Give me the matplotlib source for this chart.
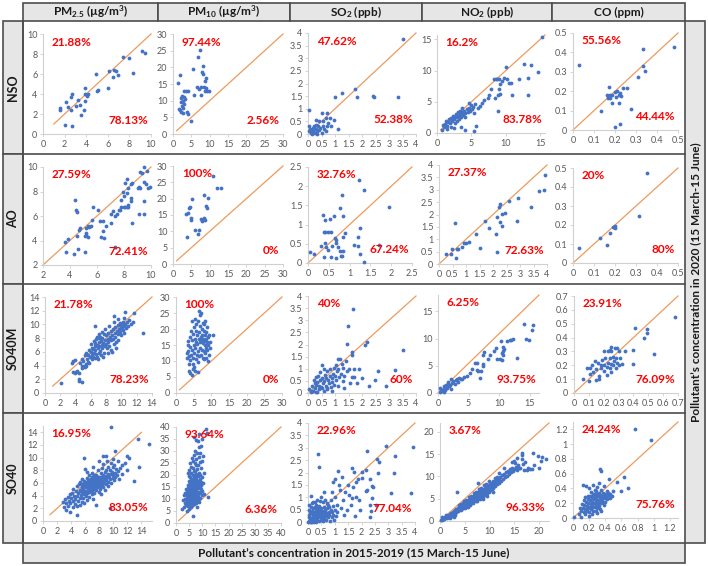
import matplotlib
matplotlib.use("Agg")
import matplotlib.pyplot as plt
from matplotlib.patches import Rectangle
from matplotlib.lines import Line2D
import numpy as np

plt.rcParams['font.family'] = ['Lato', 'DejaVu Sans']
plt.rcParams['mathtext.fontset'] = 'custom'
plt.rcParams['mathtext.rm'] = 'Lato'
plt.rcParams['mathtext.bf'] = 'Lato:bold'
plt.rcParams['mathtext.it'] = 'Lato:italic'

# ---------------- data ----------------
columns = [r'PM$_{\mathbf{2.5}}$ (µg/m$^{\mathbf{3}}$)', r'PM$_{\mathbf{10}}$ (µg/m$^{\mathbf{3}}$)',
           r'SO$_{\mathbf{2}}$ (ppb)', r'NO$_{\mathbf{2}}$ (ppb)', 'CO (ppm)']
rows = ['NSO', 'AO', 'SO40M', 'SO40']
y_title = 'Pollutant’s concentration in 2020 (15 March-15 June)'
x_title = 'Pollutant’s concentration in 2015-2019 (15 March-15 June)'

pct_above = [['21.88%', '97.44%', '47.62%', '16.2%', '55.56%'],
             ['27.59%', '100%', '32.76%', '27.37%', '20%'],
             ['21.78%', '100%', '40%', '6.25%', '23.91%'],
             ['16.95%', '93.64%', '22.96%', '3.67%', '24.24%']]
pct_below = [['78.13%', '2.56%', '52.38%', '83.78%', '44.44%'],
             ['72.41%', '0%', '67.24%', '72.63%', '80%'],
             ['78.23%', '0%', '60%', '93.75%', '76.09%'],
             ['83.05%', '6.36%', '77.04%', '96.33%', '75.76%']]

NSO_PM25 = [(2.0,0.9),(2.7,0.8),(1.6,2.4),(1.6,2.6),(2.1,3.2),(2.3,2.7),(2.6,2.4),(2.6,3.7),(2.7,4.0),
            (3.1,2.8),(3.4,2.9),(3.2,3.4),(3.5,1.9),(3.8,2.4),(3.9,3.3),(3.9,4.0),(3.9,4.6),(4.1,3.8),
            (4.2,4.0),(5.0,4.3),(5.1,4.4),(4.9,6.0),(6.0,4.6),(6.1,6.3),(6.5,5.7),(6.6,6.4),(6.8,6.3),
            (6.9,5.9),(7.4,7.7),(8.0,7.6),(8.3,6.1),(9.2,8.3),(9.4,8.1)]
NSO_PM10 = [(1.3,15.2),(1.8,17.8),(1.5,7.5),(1.8,7.2),(2.1,6.5),(2.3,10.8),(2.3,9.5),(2.4,8.3),(2.5,11.5),
            (2.6,10.0),(2.7,7.8),(2.8,6.2),(2.9,9.0),(3.0,11.0),(3.1,12.8),(3.3,10.5),(3.6,12.9),(3.8,6.5),
            (4.0,12.8),(4.1,5.9),(4.8,4.0),(5.5,19.5),(5.8,11.8),(6.5,14.0),(6.8,23.2),(7.1,13.5),(7.3,25.3),
            (7.6,11.8),(7.9,18.5),(8.1,18.0),(8.3,20.4),(8.4,14.0),(8.6,13.0),(8.8,15.8),(9.0,16.9),(8.9,13.8),
            (9.3,12.9),(9.8,12.8),(7.7,14.2)]
NSO_SO2 = [(3.5,3.75),(1.75,1.8),(1.8,1.45),(2.4,1.5),(2.45,1.45),(3.35,1.45),(1.0,1.45),(1.25,1.62),(0.05,0.97),
           (0.5,0.85),(0.7,0.85),(0.55,0.5),(0.65,0.62),(0.8,0.65),(0.95,0.55),(1.1,0.2),(0.75,0.45),(0.85,0.3),
           (0.02,0.3),(0.05,0.1),(0.08,0.2),(0.1,0.05),(0.12,0.15),(0.15,0.0),(0.18,0.1),(0.2,0.25),(0.22,0.3),
           (0.25,0.05),(0.28,0.2),(0.3,0.35),(0.32,0.1),(0.35,0.0),(0.38,0.3),(0.4,0.15),(0.45,0.25),(0.5,0.05),
           (0.55,0.3),(0.6,0.2),(0.65,0.1),(0.7,0.3),(0.4,0.5),(0.3,0.55)]
NSO_NO2 = [(15.2,15.3),(12.7,11.1),(13.6,10.9),(14.7,9.7),(11.9,8.7),(13.2,8.8),(13.2,6.1),(10.9,6.1),
           (10.0,10.5),(10.2,8.7),(10.4,8.0),(10.7,8.0),(9.7,8.8),(9.5,8.3),(9.2,7.8),(8.7,8.6),(9.0,8.7),
           (8.3,8.7),(8.6,8.7),(9.0,7.0),(9.1,6.3),(8.9,6.1),(8.4,5.6),(8.9,3.6),(7.9,7.0),(7.6,6.1),(7.4,5.6),
           (6.9,5.3),(6.2,4.3),(6.0,4.0),(6.6,4.8),(5.6,1.1),(5.4,0.4),(4.0,0.5),(3.5,1.0),
           (0.7,0.5),(1.0,0.9),(1.2,1.5),(1.3,2.0),(1.5,1.2),(1.6,1.8),(1.8,2.2),(1.9,1.6),(2.0,1.0),(2.1,2.4),
           (2.2,1.9),(2.3,2.8),(2.5,2.2),(2.6,1.6),(2.7,3.0),(2.8,2.5),(2.9,2.0),(3.0,3.3),(3.1,2.7),(3.2,2.2),
           (3.3,3.6),(3.4,3.0),(3.5,2.5),(3.6,4.0),(3.7,3.3),(3.8,2.9),(3.9,3.6),(4.0,2.6),(4.1,3.2),(4.3,3.8),
           (4.5,3.4),(4.6,4.0),(4.8,3.5),(5.0,4.5),(5.1,3.8),(5.2,4.2),(5.4,3.2),(5.5,4.7),(1.4,0.6),(2.4,0.8),
           (0.9,1.3),(4.6,4.8)]
NSO_CO = [(0.03,0.335),(0.48,0.43),(0.335,0.42),(0.335,0.33),(0.345,0.305),(0.31,0.275),(0.17,0.22),(0.16,0.18),
          (0.165,0.165),(0.175,0.18),(0.185,0.18),(0.135,0.10),(0.185,0.14),(0.21,0.20),(0.22,0.18),(0.225,0.19),
          (0.24,0.215),(0.255,0.215),(0.22,0.14),(0.275,0.11),(0.20,0.015),(0.225,0.03),(0.205,0.17),(0.23,0.175),
          (0.165,0.175),(0.2,0.195),(0.175,0.165)]

AO_PM25 = [(4.4,7.3),(4.45,6.45),(4.5,6.3),(3.66,3.86),(3.86,4.1),(3.7,3.04),(4.3,2.9),(4.6,3.3),(5.1,3.05),
           (4.53,4.33),(4.66,4.88),(4.73,5.0),(5.1,4.33),(5.2,4.47),(5.2,4.6),(5.3,4.27),(5.18,5.0),(5.3,5.15),
           (5.4,5.07),(5.55,5.15),(5.6,5.7),(5.73,6.74),(6.1,6.47),(6.22,5.56),(6.47,5.56),(6.3,4.27),(6.5,4.2),
           (6.42,4.74),(6.67,5.15),(7.04,5.42),(7.34,3.45),(7.0,6.2),(7.2,6.4),(7.3,6.0),(7.5,6.2),(7.6,6.5),
           (7.7,6.5),(7.8,6.7),(8.0,6.7),(8.1,6.7),(8.2,6.7),(8.3,6.7),(7.8,7.3),(8.0,7.6),(8.2,7.9),(8.3,8.3),
           (7.9,8.0),(8.1,8.7),(8.2,9.0),(8.5,8.6),(8.6,8.7),(8.5,7.2),(8.5,7.5),(8.3,6.9),(8.6,5.4),(9.0,8.3),
           (9.1,8.4),(9.2,8.3),(9.1,6.2),(9.45,6.2),(9.2,9.6),(9.3,9.5),(9.45,8.8),(9.6,8.65),(9.5,7.2),(9.5,10.0),
           (9.7,9.67),(9.8,8.3),(9.95,8.4)]
AO_PM10 = [(3.9,8.2),(3.6,15.2),(4.1,15.6),(4.3,17.0),(4.5,17.3),(5.2,20.0),(4.8,14.2),(5.0,13.6),(5.9,10.5),
           (7.1,10.5),(6.8,9.2),(7.7,13.9),(8.2,13.6),(8.4,14.2),(8.0,13.1),(8.6,13.6),(8.4,21.1),(9.1,17.7),
           (9.5,20.3),(9.4,17.2),(10.9,26.9),(12.0,23.4),(13.2,23.4)]
AO_SO2 = [(0.06,0.29),(0.14,0.24),(0.32,0.43),(0.36,1.26),(0.4,1.11),(0.38,0.82),(0.42,0.82),(0.48,0.82),
          (0.55,0.82),(0.42,0.52),(0.44,0.42),(0.48,0.35),(0.38,0.16),(0.54,1.15),(0.62,1.23),(0.58,0.43),
          (0.56,0.16),(0.64,0.65),(0.67,0.59),(0.68,0.52),(0.68,0.13),(0.72,0.42),(0.79,0.17),(0.82,0.17),
          (0.84,0.3),(0.76,1.43),(0.82,1.76),(0.84,1.23),(0.84,0.68),(0.88,0.78),(0.76,0.3),(1.22,2.15),
          (1.35,1.9),(1.94,1.46),(1.24,0.91),(1.19,0.68),(1.1,0.48),(1.7,0.46),(1.24,0.24),(1.34,0.02),(1.19,0.43)]
AO_NO2 = [(0.27,0.4),(0.46,0.39),(0.49,0.6),(0.58,1.64),(0.67,0.6),(0.7,0.6),(0.64,0.23),(0.85,0.67),(0.91,0.86),
          (1.01,0.84),(1.1,0.9),(1.36,1.21),(1.51,0.63),(1.72,1.75),(1.85,1.44),(2.12,1.21),(2.15,0.5),(2.16,1.89),
          (2.22,2.32),(2.27,2.42),(2.27,1.71),(2.33,2.02),(2.43,2.05),(2.35,1.55),(2.58,2.55),(2.89,1.75),
          (2.93,2.65),(3.42,2.29),(3.69,2.96),(3.88,2.99),(3.91,3.6)]
AO_CO = [(0.03,0.08),(0.13,0.13),(0.16,0.096),(0.175,0.16),(0.194,0.19),(0.2,0.183),(0.19,0.188),(0.2,0.197),
         (0.313,0.247),(0.352,0.474)]

SO40M_PM25 = [(2.1,1.4),(3.5,4.4),(3.6,4.7),(3.9,4.8),(3.7,3.1),(3.9,2.9),(4.1,3.0),(4.2,3.2),(4.4,2.9),(4.4,2.0),
              (4.5,1.8),(4.8,1.6),(4.6,4.4),(4.8,4.0),(4.9,3.7),(5.1,4.0),(5.2,3.8),(5.4,3.9),(5.8,4.4),(6.1,4.9),
              (6.3,5.2),(6.6,5.1),(6.8,5.3),(5.7,6.3),(6.6,9.8),(6.8,8.2),(7.0,8.0),(7.2,8.1),(9.0,11.3),(10.5,11.8),
              (12.8,8.7),(10.5,10.1),(10.3,9.7),(10.2,9.2),(5.5,5.0),(5.6,5.6),(5.9,5.3),(6.0,6.0),(6.2,5.6),
              (6.3,6.4),(6.4,5.9),(6.5,6.8),(6.6,6.2),(6.7,5.7),(6.8,7.0),(6.9,6.5),(7.0,5.9),(7.0,7.4),(7.1,6.8),
              (7.2,6.1),(7.3,7.6),(7.4,7.0),(7.5,6.5),(7.5,8.0),(7.6,7.3),(7.7,5.8),(7.8,7.8),(7.9,6.9),(8.0,8.4),
              (8.0,7.2),(8.1,6.5),(8.2,7.9),(8.3,8.8),(8.3,7.4),(8.4,6.8),(8.5,8.2),(8.6,9.0),(8.6,7.7),(8.7,6.3),
              (8.8,8.5),(8.9,9.3),(8.9,7.9),(9.0,7.2),(9.1,8.8),(9.2,9.6),(9.2,8.2),(9.3,7.5),(9.4,9.0),(9.5,9.9),
              (9.5,8.6),(9.6,7.8),(9.7,9.3),(9.8,10.2),(9.8,8.9),(9.9,9.6),(10.0,10.0),(10.0,8.5),(10.1,9.4),
              (10.2,10.4),(10.3,8.8),(10.4,9.9),(10.6,9.5),(10.7,10.3),(10.8,9.8),(11.0,10.6),(11.2,10.0),
              (11.5,10.3),(11.6,11.6),(6.0,7.2),(6.4,7.6),(6.7,7.9),(7.1,8.6),(7.4,8.9),(7.8,9.3),(5.2,5.5),
              (5.0,4.6),(5.3,4.3),(5.6,4.5),(6.9,4.9),(7.3,5.5),(7.6,5.2),(8.2,5.8),(8.8,6.0),(9.3,6.6),(4.9,4.9),
              (5.4,5.9),(6.1,6.6),(6.5,7.3),(7.7,8.6),(8.4,9.7),(9.0,10.3),(9.6,10.8),(10.4,10.9)]
SO40M_PM10 = [(3.0,10.8),(3.2,12.5),(3.3,15.0),(3.4,16.2),(3.5,13.0),(3.6,9.2),(3.7,11.5),(3.8,7.0),(3.9,6.2),
              (4.0,14.5),(4.0,17.5),(4.1,10.3),(4.2,12.0),(4.3,19.5),(4.4,22.5),(4.5,16.5),(4.6,13.5),(4.6,5.7),
              (4.7,9.0),(4.8,11.0),(4.9,18.5),(5.0,15.0),(5.0,20.5),(5.1,8.0),(5.2,12.5),(5.3,23.0),(5.4,17.0),
              (5.5,14.0),(5.6,10.5),(5.6,19.5),(5.7,16.0),(5.8,21.5),(5.9,12.0),(6.0,18.0),(6.0,15.3),(6.1,9.8),
              (6.2,22.5),(6.3,13.0),(6.4,17.0),(6.5,25.5),(6.5,11.5),(6.6,19.0),(6.7,15.8),(6.8,24.5),(6.8,14.0),
              (6.9,21.0),(7.0,17.5),(7.0,12.0),(7.1,25.0),(7.2,16.5),(7.3,20.0),(7.3,13.5),(7.4,18.0),(7.5,11.0),
              (7.5,22.0),(7.6,15.5),(7.7,17.0),(7.8,19.5),(7.8,13.0),(7.9,16.3),(8.0,21.5),(8.0,10.5),(8.1,18.0),
              (8.2,15.0),(8.3,12.5),(8.3,22.5),(8.4,17.0),(8.5,14.0),(8.6,19.0),(8.6,11.0),(8.7,16.0),(8.8,20.5),
              (8.9,13.5),(9.0,17.5),(9.0,10.0),(9.1,15.0),(9.2,12.0),(9.3,18.0),(9.5,14.0),(9.6,16.0),(10.5,18.0),
              (6.3,6.5),(4.8,7.5),(5.4,6.8)]
SO40M_SO2 = [(1.68,3.45),(1.47,2.76),(1.46,2.02),(1.62,1.68),(2.17,2.12),(2.11,1.98),(3.53,1.77),(3.22,0.95),
             (1.7,0.99),(1.7,0.65),(1.62,0.65),(2.27,0.29),(2.48,0.54),(1.62,1.57),(0.05,0.15),(0.1,0.05),
             (0.15,0.3),(0.2,0.1),(0.22,0.55),(0.25,0.2),(0.28,0.65),(0.3,0.35),(0.32,0.05),(0.35,0.45),(0.38,0.7),
             (0.4,0.15),(0.42,0.3),(0.45,0.55),(0.48,0.25),(0.5,0.6),(0.52,1.15),(0.55,0.4),(0.58,0.1),(0.6,0.5),
             (0.62,0.75),(0.65,0.3),(0.68,0.6),(0.7,0.9),(0.72,0.2),(0.75,0.55),(0.78,0.4),(0.8,0.7),(0.82,1.0),
             (0.85,0.25),(0.88,0.6),(0.9,0.45),(0.92,0.8),(0.95,1.05),(0.98,0.35),(1.0,0.7),(1.02,1.15),(1.05,0.55),
             (1.08,0.9),(1.1,0.3),(1.12,1.0),(1.15,0.65),(1.2,1.4),(1.22,0.8),(1.25,1.2),(1.28,0.5),(1.3,1.05),
             (1.35,0.7),(1.4,1.3),(1.45,0.9),(1.5,1.0),(1.55,0.4),(1.1,1.4),(0.6,1.0),(0.45,0.85),(0.3,0.05),
             (0.15,0.1),(0.5,0.2),(0.25,0.4),(0.7,0.15),(0.9,0.1),(1.8,0.4),(2.0,0.6),(1.9,1.0),(1.35,0.2),
             (2.6,0.9),(2.9,0.3)]
SO40M_NO2 = [(14.0,12.7),(15.6,12.4),(14.4,10.0),(14.9,9.8),(15.4,11.5),(12.9,6.5),(12.2,10.0),(11.9,9.7),
             (11.7,9.8),(11.3,9.5),(10.3,9.5),(10.7,8.4),(10.8,8.1),(10.6,7.8),(10.4,7.3),(10.7,7.0),(10.2,6.2),
             (10.5,6.0),(9.7,6.2),(9.5,8.3),(9.1,7.8),(8.5,7.0),(8.2,6.2),(7.4,7.0),(7.5,7.6),(7.1,4.0),(6.9,2.8),
             (7.4,5.4),(7.3,5.0),(6.3,5.6),(6.0,5.6),(6.6,4.0),(6.3,4.3),(5.6,4.4),(5.2,3.7),(4.7,3.2),
             (0.3,0.2),(0.5,0.5),(0.7,0.3),(0.9,0.8),(1.0,1.2),(1.2,0.6),(1.3,1.4),(1.5,1.0),(1.6,1.6),(1.8,1.2),
             (2.0,1.5),(2.1,0.8),(2.3,1.8),(2.5,2.2),(2.7,1.6),(2.9,2.4),(3.1,2.6),(3.3,2.0),(3.5,2.8),(3.7,2.5),
             (4.0,2.6),(4.2,3.0),(1.0,0.2),(0.4,0.9),(1.7,2.0),(2.2,2.5)]
SO40M_CO = [(0.68,0.55),(0.41,0.47),(0.49,0.46),(0.49,0.43),(0.47,0.40),(0.54,0.28),(0.40,0.31),(0.40,0.21),
            (0.274,0.327),(0.29,0.327),(0.34,0.3),(0.30,0.30),(0.24,0.31),(0.25,0.3),(0.06,0.1),(0.105,0.14),
            (0.105,0.18),(0.087,0.18),(0.1,0.087),(0.146,0.096),(0.18,0.18),(0.2,0.2),(0.15,0.17),(0.16,0.22),
            (0.17,0.12),(0.18,0.2),(0.19,0.24),(0.2,0.16),(0.21,0.25),(0.22,0.19),(0.22,0.13),(0.23,0.22),
            (0.24,0.25),(0.24,0.18),(0.25,0.21),(0.25,0.15),(0.26,0.26),(0.26,0.2),(0.27,0.23),(0.28,0.18),
            (0.28,0.25),(0.29,0.22),(0.3,0.2),(0.31,0.25),(0.32,0.21),(0.23,0.3),(0.25,0.33),(0.2,0.3),(0.14,0.23),
            (0.12,0.2),(0.17,0.1),(0.13,0.15)]

SO40_PM25 = [(2.8,3.0),(3.0,2.2),(3.1,3.5),(3.2,1.8),(3.3,2.9),(3.5,3.8),(3.6,2.4),(3.7,3.2),(3.8,4.2),(3.9,1.5),
             (3.9,2.8),(4.0,3.6),(4.1,4.5),(4.2,2.2),(4.3,3.1),(4.3,5.0),(4.4,4.0),(4.5,2.7),(4.6,3.5),(4.7,4.8),
             (4.8,0.9),(4.8,3.9),(4.9,2.3),(4.9,5.5),(5.0,3.2),(5.0,4.4),(5.1,5.8),(5.2,3.7),(5.2,4.9),(5.3,2.6),
             (5.3,6.2),(5.4,4.1),(5.5,5.3),(5.5,3.0),(5.6,4.6),(5.6,6.6),(5.7,3.6),(5.7,5.0),(5.8,10.0),(5.8,4.2),
             (5.9,5.6),(5.9,2.8),(6.0,4.8),(6.0,6.0),(6.1,3.9),(6.1,5.3),(6.2,6.8),(6.2,4.4),(6.3,5.7),(6.3,3.3),
             (6.4,5.0),(6.4,6.3),(6.5,4.6),(6.5,7.2),(6.6,5.5),(6.6,3.8),(6.7,6.0),(6.7,4.9),(6.8,6.7),(6.8,5.2),
             (6.9,4.3),(6.9,5.8),(7.0,6.3),(7.0,7.6),(7.0,4.8),(7.1,5.5),(7.1,3.5),(7.2,6.0),(7.2,6.9),(7.3,5.1),
             (7.3,4.4),(7.4,6.4),(7.4,5.7),(7.5,7.3),(7.5,4.9),(7.6,6.1),(7.6,2.6),(7.7,5.4),(7.7,6.7),(7.8,5.9),
             (7.8,8.0),(7.9,4.6),(7.9,6.3),(8.0,5.6),(8.0,7.0),(8.1,6.6),(8.1,5.1),(8.2,7.6),(8.2,6.0),(8.3,4.2),
             (8.3,6.9),(8.4,5.7),(8.4,8.3),(8.5,6.4),(8.5,7.3),(8.6,5.3),(8.6,9.0),(8.7,6.8),(8.7,6.0),(8.8,7.7),
             (8.8,4.9),(8.9,6.5),(8.9,7.1),(9.0,8.0),(9.0,5.8),(9.1,6.9),(9.1,9.5),(9.2,6.2),(9.2,7.5),(9.3,8.6),
             (9.3,5.5),(9.4,7.0),(9.5,2.0),(9.5,6.6),(9.5,8.1),(9.6,14.8),(9.6,7.4),(9.7,9.2),(9.7,6.0),(9.8,7.8),
             (9.9,6.8),(9.9,8.6),(10.0,7.2),(10.1,6.4),(10.1,8.9),(10.2,7.6),(10.3,11.1),(10.3,6.9),(10.4,8.2),
             (10.5,7.3),(10.6,9.4),(10.7,7.9),(10.8,6.6),(11.0,8.4),(11.2,8.9),(11.3,7.4),(11.6,9.1),(11.9,10.2),
             (12.3,10.0),(12.0,8.0),(13.0,6.3),(13.5,13.0),(13.7,8.6),(15.1,12.1),(10.0,9.8),(9.0,10.3),(8.0,9.5),
             (8.5,10.2),(6.3,7.7),(7.1,8.5),(6.0,8.2),(5.5,5.9),(5.8,6.3),(6.1,4.6),(6.3,6.1),(6.5,5.2),(6.7,5.6),
             (6.9,6.2),(7.1,6.6),(7.3,5.8),(7.5,6.2),(7.7,6.0),(7.9,5.5),(8.1,6.2),(8.3,5.9),(6.2,5.4),(6.6,6.5),
             (7.0,5.3),(7.4,6.8),(6.4,5.8),(6.8,5.0),(7.2,5.4),(7.6,5.7),(7.8,6.9),(8.0,6.4),(8.2,5.5),(5.3,4.8),
             (5.6,5.2),(6.0,5.5),(6.9,6.9),(7.3,7.2)]
SO40_PM10 = [(2.2,5.8),(2.6,9.6),(3.0,11.5),(3.2,6.5),(3.4,8.2),(3.5,12.5),(3.6,10.0),(3.8,7.5),(3.9,14.0),(4.0,9.0),
             (4.0,11.8),(4.1,5.0),(4.2,8.3),(4.2,13.0),(4.3,10.5),(4.4,16.0),(4.5,7.0),(4.5,9.5),(4.6,12.0),
             (4.7,20.7),(4.7,14.5),(4.8,6.0),(4.8,11.0),(4.9,8.5),(4.9,17.5),(5.0,10.0),(5.0,13.5),(5.0,22.0),
             (5.1,7.2),(5.1,15.5),(5.2,9.0),(5.2,11.8),(5.3,19.0),(5.3,25.0),(5.4,8.0),(5.4,13.0),(5.5,10.5),
             (5.5,16.5),(5.6,6.5),(5.6,12.2),(5.7,9.5),(5.7,21.0),(5.8,14.0),(5.8,11.0),(5.9,8.8),(5.9,17.8),
             (6.0,10.2),(6.0,18.0),(6.0,27.0),(6.0,13.0),(6.1,7.5),(6.1,15.0),(6.2,9.8),(6.2,11.5),(6.3,20.0),
             (6.3,16.0),(6.4,8.5),(6.4,12.8),(6.5,10.8),(6.5,23.0),(6.6,3.0),(6.6,14.5),(6.6,18.5),(6.7,9.2),
             (6.7,28.5),(6.8,11.0),(6.8,16.8),(6.9,13.5),(6.9,21.5),(7.0,35.9),(7.0,10.0),(7.0,19.0),(7.0,7.8),
             (7.1,15.5),(7.1,12.0),(7.2,25.0),(7.2,17.5),(7.3,9.0),(7.3,13.8),(7.4,30.0),(7.4,11.2),(7.5,16.0),
             (7.5,20.5),(7.6,8.2),(7.6,14.2),(7.7,34.5),(7.7,18.0),(7.8,12.5),(7.8,26.5),(7.9,10.5),(7.9,15.0),
             (8.0,22.5),(8.0,17.0),(8.0,6.5),(8.1,13.0),(8.1,29.0),(8.2,11.0),(8.2,19.5),(8.3,15.8),(8.3,9.5),
             (8.4,34.0),(8.4,24.0),(8.5,12.0),(8.5,17.5),(8.6,14.5),(8.6,27.5),(8.7,10.5),(8.7,21.0),(8.8,16.5),
             (8.8,31.5),(8.9,13.0),(8.9,8.8),(9.0,18.5),(9.0,25.5),(9.1,15.0),(9.2,12.5),(9.2,29.0),(9.3,20.0),
             (9.3,10.5),(9.4,17.0),(9.5,23.0),(9.5,14.0),(9.6,32.0),(9.7,16.0),(9.8,11.5),(9.8,26.0),(10.0,19.0),
             (10.0,13.5),(10.2,16.5),(10.5,21.0),(10.8,12.0),(11.4,39.0),(11.7,37.5),(12.3,11.0),(10.3,28.0),
             (9.9,35.0),(8.9,37.0),(5.5,14.0),(6.0,15.8),(6.5,13.0),(7.0,16.5),(7.5,18.5),(8.0,14.5),(6.2,17.0),
             (6.8,19.8),(7.3,21.8),(7.8,19.5),(5.8,12.0),(6.3,10.5),(6.9,12.2),(7.4,10.0),(8.2,16.0),(5.2,16.8),
             (4.9,19.5),(5.6,23.5),(6.4,26.0),(7.6,24.0)]
SO40_SO2 = [(0.37,2.74),(0.4,2.21),(1.12,2.06),(1.0,1.74),(1.27,1.8),(1.64,2.17),(1.72,2.04),(2.0,2.04),(2.2,2.87),
            (2.9,3.06),(3.27,2.68),(3.92,3.02),(2.58,2.54),(2.65,2.41),(2.62,2.0),(3.21,1.96),(2.15,2.1),(2.03,1.77),
            (1.87,1.73),(2.3,1.73),(2.4,1.46),(2.2,1.28),(2.15,1.27),(2.43,1.4),(1.78,1.0),(1.66,0.96),(2.4,0.95),
            (2.53,0.68),(3.11,1.18),(2.33,0.68),(2.37,0.45),(2.33,0.2),(3.86,1.18),(1.93,0.48),
            (1.5,1.5),(1.4,1.2),(1.3,0.9),(1.2,1.3),(1.1,0.7),(1.0,1.0),(0.9,1.2),(0.8,0.6),(1.45,0.5),(1.6,0.7),
            (1.7,1.4),(1.55,1.1),(1.35,0.3),(1.25,0.55),(1.15,1.5),(0.95,1.6),(0.85,0.9),(1.75,0.25),(1.9,0.9),
            (1.8,1.6),(0.6,1.2),(0.5,1.0),(0.2,0.8),(0.1,1.05),
            (0.02,0.05),(0.05,0.2),(0.05,0.5),(0.08,0.1),(0.1,0.35),(0.12,0.02),(0.12,0.6),(0.15,0.15),(0.15,0.45),
            (0.18,0.3),(0.2,0.05),(0.2,0.55),(0.22,0.2),(0.25,0.4),(0.25,0.1),(0.28,0.6),(0.3,0.25),(0.3,0.02),
            (0.32,0.45),(0.35,0.15),(0.35,0.35),(0.38,0.55),(0.4,0.05),(0.4,0.3),(0.42,0.65),(0.45,0.2),(0.45,0.45),
            (0.48,0.1),(0.5,0.35),(0.5,0.55),(0.52,0.25),(0.55,0.05),(0.55,0.45),(0.58,0.3),(0.6,0.15),(0.6,0.6),
            (0.62,0.4),(0.65,0.25),(0.65,0.5),(0.68,0.1),(0.7,0.35),(0.72,0.55),(0.75,0.2),(0.75,0.7),(0.78,0.4),
            (0.8,0.3),(0.82,0.05),(0.85,0.5),(0.88,0.2),(0.9,0.4),(0.92,0.65),(0.95,0.3),(0.98,0.1),(1.0,0.5),
            (1.05,0.25),(1.1,0.4),(0.03,0.3),(0.07,0.4),(0.17,0.25),(0.27,0.3),(0.33,0.2),(0.37,0.4),(0.43,0.35),
            (0.47,0.28),(0.53,0.4),(0.57,0.18),(0.63,0.32),(0.67,0.38),(0.73,0.28),(0.1,0.15),(0.2,0.4),(0.3,0.5),
            (0.4,0.45),(0.05,0.7),(0.15,0.75),(0.25,0.8),(0.35,0.9),(0.45,0.85),(0.55,0.8),(0.65,0.9),(0.7,0.75),
            (0.3,0.7),(0.0,0.0),(0.08,0.0),(0.16,0.0),(0.24,0.0),(0.32,0.1)]
SO40_NO2 = [(0.2,0.2),(0.4,0.3),(0.6,0.5),(0.8,0.4),(1.0,0.8),(1.1,0.6),(1.3,1.0),(1.4,0.7),(1.5,1.2),(1.7,0.9),
            (1.8,1.4),(1.9,1.1),(2.0,1.5),(2.1,0.6),(2.2,1.3),(2.3,1.7),(2.4,1.2),(2.5,1.9),(2.6,1.5),(2.7,2.0),
            (2.8,1.7),(2.9,2.2),(3.0,1.9),(3.0,1.3),(0.5,0.9),(1.2,1.4),(2.8,0.9),(3.1,2.4),(3.2,2.1),(3.3,2.7),
            (3.4,2.2),(3.5,6.6),(3.5,2.5),(3.6,3.0),(3.7,2.3),(3.8,2.8),(3.9,3.2),(4.0,2.6),(4.0,3.5),(4.1,3.0),
            (4.2,2.4),(4.3,3.3),(4.4,3.7),(4.5,2.9),(4.5,3.4),(4.6,4.0),(4.7,3.2),(4.8,3.6),(4.9,4.2),(5.0,3.0),
            (5.0,3.8),(5.1,4.4),(5.2,3.5),(5.3,4.0),(5.4,4.6),(5.5,3.7),(5.5,4.2),(5.6,3.2),(5.7,4.5),(5.8,4.0),
            (5.9,4.8),(6.0,4.3),(6.0,3.6),(6.1,5.0),(6.2,4.5),(6.3,4.0),(6.4,5.2),(6.5,4.7),(6.6,5.5),(6.7,4.4),
            (6.8,5.0),(6.9,5.7),(7.0,4.8),(7.0,5.3),(7.1,6.0),(7.2,4.5),(7.3,5.4),(7.4,6.2),(7.5,5.0),(7.6,5.7),
            (7.7,8.6),(7.7,6.4),(7.8,5.2),(7.9,6.0),(8.0,5.5),(8.0,6.7),(8.1,4.9),(8.2,6.2),(8.3,5.7),(8.4,7.0),
            (8.5,6.0),(8.6,5.4),(8.7,6.5),(8.8,7.2),(8.9,6.0),(9.0,6.6),(9.1,7.4),(9.2,5.8),(9.3,6.9),(9.4,7.7),
            (9.5,6.3),(9.6,7.1),(9.7,8.0),(9.8,6.6),(9.9,7.4),(10.0,8.3),(10.1,6.9),(10.2,7.7),(10.3,8.6),
            (10.4,7.2),(10.5,8.0),(10.6,9.0),(10.7,7.5),(10.8,8.4),(11.0,9.7),(11.0,7.9),(11.2,8.7),(11.3,9.2),
            (11.5,9.8),(11.5,8.2),(11.7,9.0),(11.9,9.5),(12.0,8.5),(12.2,9.9),(12.4,8.9),(12.6,10.3),(12.8,9.4),
            (13.0,10.6),(13.2,9.8),(13.4,11.0),(13.6,10.2),(13.8,11.3),(14.0,10.5),(14.2,11.7),(14.4,10.9),
            (14.6,12.0),(14.8,11.3),(15.0,13.4),(15.0,11.7),(15.2,13.0),(15.4,12.2),(15.6,11.4),(15.8,12.6),
            (16.0,11.9),(16.2,11.9),(16.5,15.3),(16.5,14.8),(16.5,14.0),(16.8,12.8),(17.0,11.5),(17.2,13.2),
            (17.5,11.5),(17.8,12.0),(18.2,11.6),(18.5,11.6),(18.7,15.3),(19.0,12.5),(19.7,14.5),(20.3,13.4),
            (20.5,14.3),(21.4,14.0),(20.0,12.0),(13.0,11.8),(12.0,10.8),(14.5,13.2),(15.5,14.2),(4.2,3.9),
            (5.2,4.8),(6.2,5.6),(7.2,6.5),(8.2,7.4),(9.2,8.3),(3.8,3.5),(4.8,4.4),(5.8,5.3),(6.8,6.2),(7.8,7.1),
            (8.8,8.0),(9.8,8.9),(4.6,3.0),(5.4,3.3),(6.6,4.0),(7.4,4.6),(8.6,5.0),(9.4,5.6),(10.6,6.5)]
SO40_CO = [(0.77,1.21),(0.97,1.05),(0.33,0.67),(0.35,0.64),(0.44,0.53),(0.12,0.45),(0.16,0.44),(0.63,0.55),
           (0.68,0.40),(0.54,0.49),(0.5,0.37),(0.46,0.27),(0.59,0.36),(0.43,0.34),(0.45,0.33),(0.07,0.06),
           (0.1,0.02),(0.01,0.01),(0.1,0.1),(0.12,0.14),(0.13,0.08),(0.14,0.18),(0.15,0.12),(0.16,0.22),(0.17,0.1),
           (0.17,0.16),(0.18,0.26),(0.18,0.13),(0.19,0.2),(0.2,0.08),(0.2,0.15),(0.21,0.24),(0.21,0.3),(0.22,0.12),
           (0.22,0.19),(0.23,0.27),(0.23,0.06),(0.24,0.16),(0.24,0.22),(0.25,0.33),(0.25,0.1),(0.26,0.2),
           (0.26,0.26),(0.27,0.15),(0.27,0.3),(0.28,0.22),(0.28,0.09),(0.29,0.18),(0.29,0.36),(0.3,0.25),
           (0.3,0.13),(0.31,0.3),(0.31,0.2),(0.32,0.16),(0.32,0.34),(0.33,0.24),(0.33,0.28),(0.34,0.12),
           (0.34,0.31),(0.35,0.2),(0.35,0.38),(0.36,0.26),(0.36,0.3),(0.37,0.22),(0.37,0.34),(0.38,0.18),
           (0.38,0.3),(0.39,0.27),(0.4,0.33),(0.4,0.22),(0.41,0.3),(0.42,0.26),(0.42,0.36),(0.44,0.3),(0.46,0.32),
           (0.48,0.3),(0.3,0.42),(0.27,0.38),(0.22,0.35),(0.19,0.3),(0.15,0.28),(0.13,0.24),(0.11,0.19),
           (0.09,0.13),(0.2,0.4),(0.25,0.45),(0.32,0.48),(0.38,0.44),(0.15,0.05),(0.2,0.03),(0.25,0.15),
           (0.3,0.07),(0.35,0.1),(0.28,0.28),(0.24,0.28),(0.26,0.32),(0.3,0.32),(0.34,0.26),(0.36,0.22)]

panel_data = [[NSO_PM25, NSO_PM10, NSO_SO2, NSO_NO2, NSO_CO],
              [AO_PM25, AO_PM10, AO_SO2, AO_NO2, AO_CO],
              [SO40M_PM25, SO40M_PM10, SO40M_SO2, SO40M_NO2, SO40M_CO],
              [SO40_PM25, SO40_PM10, SO40_SO2, SO40_NO2, SO40_CO]]

# reference (1:1) line endpoints per panel: (x0, y0, x1, y1)
ref_lines = [[(1,1,10,10), (1,1,30,30), (0.1,0.1,4,4), (0.5,0.5,15.7,15.7), (0,0,0.5,0.5)],
             [(2,2,10,10), (1,1,30,30), (0,0,2.5,2.5), (0,0,4,4), (0,0,0.5,0.5)],
             [(1,1,14,14), (1,1,30,30), (0,0,4,4), (0,0,16.5,18), (0,0,0.7,0.7)],
             [(1,1,14,14), (1,1,40,40), (0,0,4,4), (0,0,22,22), (0,0,1.3,1.3)]]

# axis specs: (xlim, ylim, xticks(start, stop, step), yticks(start, stop, step))
axis_spec = [[((0,10),(0,10),(0,10,2),(0,10,2)), ((0,30),(0,30),(0,30,5),(0,30,5)),
              ((0,4),(0,4),(0,4,0.5),(0,4,0.5)), ((0,15.7),(0,15.7),(0,15,5),(0,15,5)),
              ((0,0.5),(0,0.5),(0,0.5,0.1),(0,0.5,0.1))],
             [((2,10),(2,10),(2,10,2),(2,10,2)), ((0,30),(0,30),(0,30,5),(0,30,5)),
              ((0,2.5),(0,2.5),(0,2.5,0.5),(0,2.5,0.5)), ((0,4),(0,4),(0,4,0.5),(0,4,0.5)),
              ((0,0.5),(0,0.5),(0,0.5,0.1),(0,0.5,0.1))],
             [((0,14),(0,14),(0,14,2),(0,14,2)), ((0,30),(0,30),(0,30,5),(0,30,5)),
              ((0,4),(0,4),(0,4,0.5),(0,4,0.5)), ((0,16.5),(0,18),(0,15,5),(0,15,5)),
              ((0,0.7),(0,0.7),(0,0.7,0.1),(0,0.7,0.1))],
             [((0,15.5),(0,15),(0,14,2),(0,14,2)), ((0,40),(0,40),(0,40,5),(0,40,5)),
              ((0,4),(0,4),(0,4,0.5),(0,4,0.5)), ((0,22),(0,22),(0,20,5),(0,20,5)),
              ((0,1.3),(0,1.3),(0,1.2,0.2),(0,1.2,0.2))]]

# ---------------- layout (pixels) ----------------
W, H = 708, 566
col_px = [[(43,151),(173,283),(308,416),(437,545),(573,678)],
          [(43,151),(173,283),(308,412),(439,547),(573,678)],
          [(45,152),(176,282),(308,416),(438,539),(574,678)],
          [(43,152),(176,281),(308,415),(440,549),(573,678)]]
row_px = [[(134,34),(134,34),(134,33),(133,35),(130,33)],
          [(265,167),(264,166),(263,167),(264,165),(263,168)],
          [(393,297),(393,297),(393,296),(393,295),(393,296)],
          [(521,426),(523,427),(522,423),(521,423),(518,422)]]

fig = plt.figure(figsize=(W/100, H/100), dpi=100)

def fx(px): return px / W
def fy(py): return 1 - py / H

GRID_EDGE = '#4d4d4d'
STRIP = '#e6e6e6'

def rect(x0, y0, x1, y1, fc, lw=1.2):
    fig.patches.append(Rectangle((fx(x0), fy(y1)), fx(x1) - fx(x0), fy(y0) - fy(y1),
                                 transform=fig.transFigure, facecolor=fc, edgecolor=GRID_EDGE,
                                 linewidth=lw, zorder=0))

def hline(x0, x1, y, lw=1.2):
    fig.lines.append(Line2D([fx(x0), fx(x1)], [fy(y), fy(y)], transform=fig.transFigure,
                            color=GRID_EDGE, linewidth=lw, zorder=1))

def vline(x, y0, y1, lw=1.2):
    fig.lines.append(Line2D([fx(x), fx(x)], [fy(y0), fy(y1)], transform=fig.transFigure,
                            color=GRID_EDGE, linewidth=lw, zorder=1))

col_edges = [23, 158, 290, 422, 552, 685]
for i, name in enumerate(columns):
    rect(col_edges[i], 3, col_edges[i+1], 21, STRIP)
    fig.text(fx((col_edges[i] + col_edges[i+1]) / 2), fy(12), name, ha='center', va='center',
             fontsize=8.5, fontweight='bold', color='#1a1a1a')

row_edges = [21, 154, 284, 413, 543]
for i, name in enumerate(rows):
    rect(3, row_edges[i], 23, row_edges[i+1], STRIP)
    fig.text(fx(13), fy((row_edges[i] + row_edges[i+1]) / 2), name, rotation=90, ha='center',
             va='center', fontsize=9, fontweight='bold', color='#1a1a1a')

rect(685, 21, 705, 543, STRIP)
fig.text(fx(695.5), fy(282), y_title, rotation=90, ha='center', va='center', fontsize=8.5,
         fontweight='bold', color='#1a1a1a')
rect(23, 543, 685, 563, STRIP)
fig.text(fx(354), fy(553), x_title, ha='center', va='center', fontsize=8.5, fontweight='bold',
         color='#1a1a1a')

for y in row_edges[1:-1]:
    hline(23, 685, y)
vline(23, 21, 543)

AX_COLOR = '#d0d0d0'
TICK_COLOR = '#595959'

def fmt(v):
    return f'{v:.2f}'.rstrip('0').rstrip('.')

for r in range(4):
    for c in range(5):
        (xl, xr) = col_px[r][c]
        (yb, yt) = row_px[r][c]
        ax = fig.add_axes([fx(xl), fy(yb), (xr - xl) / W, (yb - yt) / H])
        xlim, ylim, xt, yt_ = axis_spec[r][c]
        ax.set_xlim(*xlim)
        ax.set_ylim(*ylim)
        xticks = np.arange(xt[0], xt[1] + xt[2] / 2, xt[2])
        yticks = np.arange(yt_[0], yt_[1] + yt_[2] / 2, yt_[2])
        ax.set_xticks(xticks)
        ax.set_yticks(yticks)
        ax.set_xticklabels([fmt(v) for v in xticks])
        ax.set_yticklabels([fmt(v) for v in yticks])
        ax.tick_params(axis='both', labelsize=6.5, colors=TICK_COLOR, length=2, width=0.6,
                       pad=2, color=AX_COLOR)
        for s in ['top', 'right']:
            ax.spines[s].set_visible(False)
        for s in ['left', 'bottom']:
            ax.spines[s].set_color(AX_COLOR)
            ax.spines[s].set_linewidth(0.8)
        ax.patch.set_alpha(0)
        x0, y0, x1, y1 = ref_lines[r][c]
        ax.plot([x0, x1], [y0, y1], color='#EE9A5C', linewidth=0.9, zorder=2, clip_on=False)
        pts = panel_data[r][c]
        ax.scatter([p[0] for p in pts], [p[1] for p in pts], s=7.5, color='#4472C4', linewidths=0,
                   zorder=3, clip_on=False)
        ax.text(0.08, 0.92, pct_above[r][c], transform=ax.transAxes, ha='left', va='center',
                fontsize=8.5, fontweight='bold', color='#FF0000', zorder=4)
        ax.text(0.97, 0.14, pct_below[r][c], transform=ax.transAxes, ha='right', va='center',
                fontsize=8.5, fontweight='bold', color='#FF0000', zorder=4)

fig.savefig('out.png', dpi=100)
